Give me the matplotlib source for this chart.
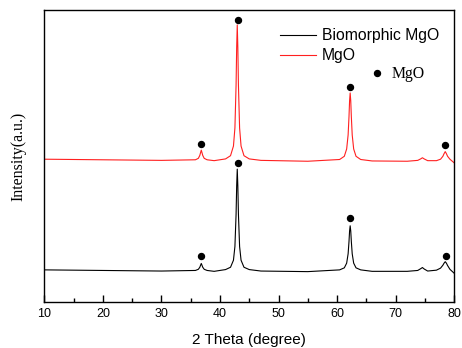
import matplotlib
matplotlib.use('Agg')
import matplotlib.pyplot as plt
from matplotlib.lines import Line2D
from matplotlib.ticker import MultipleLocator

# XRD patterns (2 theta, intensity with offset)
theta = [10, 20, 30, 35.8, 36.3, 36.55, 36.7, 36.8, 36.9, 37.05, 37.3, 37.8, 39,
         40.95, 41.8, 42.3, 42.55, 42.75, 42.85, 42.95, 43.05, 43.15, 43.35, 43.6, 44.1, 45,
         47, 55, 60.45, 61.25, 61.65, 61.9, 62.05, 62.15, 62.25, 62.35, 62.45, 62.6, 62.85,
         63.25, 64.05, 66, 72, 73.8, 74.3, 74.6, 74.9, 75.5, 77.0, 77.7, 78.1, 78.3, 78.5,
         78.7, 78.9, 79.3, 80]
mgo = [48.9, 48.7, 48.5, 48.7, 49.2, 50.2, 51.3, 52.0, 51.3, 50.2, 49.2, 48.7, 48.4,
       49.0, 50.1, 53.4, 59.6, 74.4, 87.2, 94.9, 87.2, 74.4, 59.6, 53.4, 50.1, 49.0,
       48.5, 48.2, 48.8, 49.9, 52.4, 57.2, 63.5, 68.9, 71.6, 68.9, 63.5, 57.2, 52.4,
       49.9, 48.8, 48.3, 48.2, 48.5, 49.0, 49.4, 49.0, 48.4, 48.4, 48.9, 49.9, 50.8, 51.5,
       50.8, 49.9, 48.9, 47.7]
bio_mgo = [11.0, 10.8, 10.6, 10.8, 11.2, 11.9, 12.7, 13.2, 12.7, 11.9, 11.2, 10.8, 10.5,
           11.1, 11.9, 14.3, 19.0, 30.1, 39.7, 45.5, 39.7, 30.1, 19.0, 14.3, 11.9, 11.1,
           10.6, 10.4, 11.0, 11.7, 13.3, 16.5, 20.7, 24.3, 26.1, 24.3, 20.7, 16.5, 13.3,
           11.7, 11.0, 10.5, 10.5, 10.8, 11.4, 11.8, 11.3, 10.6, 10.9, 11.6, 12.6, 13.3, 13.8,
           13.3, 12.5, 11.2, 9.9]

# peak markers
mgo_peak_x = [36.8, 43.0, 62.2, 78.5]
mgo_peak_y = [54.0, 96.6, 73.7, 53.9]
bio_peak_x = [36.8, 43.1, 62.3, 78.6]
bio_peak_y = [15.9, 47.7, 28.7, 15.6]

SANS = 'Liberation Sans'
SERIF = 'Liberation Serif'

fig = plt.figure(figsize=(4.62, 3.48), dpi=100)
ax = fig.add_axes([0.0963, 0.1322, 0.8864, 0.8391])

ax.plot(theta, bio_mgo, color='black', lw=0.8, label='Biomorphic MgO')
ax.plot(theta, mgo, color='#ff2020', lw=0.8, label='MgO')
ax.plot(mgo_peak_x, mgo_peak_y, 'o', color='black', ms=4.3, ls='none')
ax.plot(bio_peak_x, bio_peak_y, 'o', color='black', ms=4.3, ls='none')

ax.set_xlim(10, 80)
ax.set_ylim(0, 100)
ax.xaxis.set_major_locator(MultipleLocator(10))
ax.xaxis.set_minor_locator(MultipleLocator(5))
ax.tick_params(axis='x', which='major', direction='in', length=5, width=1, pad=4)
ax.tick_params(axis='x', which='minor', direction='in', length=3, width=1)
ax.set_yticks([])
for s in ax.spines.values():
    s.set_linewidth(1.0)
for label in ax.get_xticklabels():
    label.set_fontname(SANS)
    label.set_fontsize(9)

ax.set_xlabel('2 Theta (degree)', fontdict={'family': SANS, 'size': 11}, labelpad=10)
ax.set_ylabel('Intensity(a.u.)', fontdict={'family': SERIF, 'size': 11.5}, labelpad=13)

leg1 = ax.legend(loc='upper left', bbox_to_anchor=(0.575, 0.938), frameon=False,
                 prop={'family': SANS, 'size': 11.3}, handlelength=2.3,
                 handletextpad=0.35, labelspacing=0.33, borderpad=0, borderaxespad=0)
ax.add_artist(leg1)
dot = Line2D([], [], marker='o', color='black', ms=4.3, ls='none')
ax.legend([dot], ['MgO'], loc='upper left', bbox_to_anchor=(0.793, 0.808), frameon=False,
          prop={'family': SERIF, 'size': 11.3}, handlelength=1.0,
          handletextpad=0.4, borderpad=0, borderaxespad=0)

plt.savefig('out.png', dpi=100)
